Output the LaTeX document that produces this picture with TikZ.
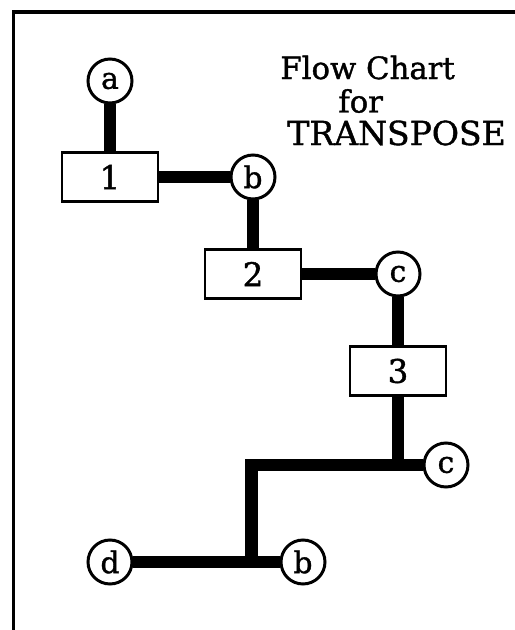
\documentclass[tikz,border=0pt]{standalone}
\usepackage{fontspec}
\setmainfont{DejaVu Serif}
\newfontfamily\chartfont{DejaVu Serif}[FakeBold=1.2]
\usetikzlibrary{shapes,positioning}

\tikzset{
  conn/.style={circle, draw, line width=1.7pt, minimum size=0.88cm, inner sep=0pt, fill=white,
    font=\chartfont\fontsize{17}{20}\selectfont},
  proc/.style={rectangle, draw, line width=1.7pt, minimum width=1.92cm, minimum height=0.98cm,
    inner sep=0pt, fill=white, font=\chartfont\fontsize{18.5}{22}\selectfont},
  link/.style={line width=7pt},
  title/.style={anchor=base west, inner sep=0pt, font=\chartfont\fontsize{17.5}{21}\selectfont}
}

\begin{document}
\begin{tikzpicture}
            \useasboundingbox (0,0) rectangle (10.3,12.6);

            % Frame
            \draw[line width=2.2pt] (0.27,0) -- (0.27,12.36) -- (10.3,12.36);

            % Heading
            \node[title] (head1) at (5.6,11.02) {Flow Chart};
            \node[title] (head2) at (6.76,10.35) {for};
            \node[title, font=\chartfont\fontsize{18.8}{22}\selectfont] (head3) at (5.74,9.7) {TRANSPOSE};

            % Connectors
            \node[conn] (a) at (2.2,10.98) {a};
            \node[conn] (b) at (5.06,9.06) {b};
            \node[conn] (c) at (7.96,7.12) {c};
            \node[conn] (c2) at (8.92,3.3) {c};
            \node[conn] (d) at (2.2,1.36) {d};
            \node[conn] (b2) at (6.06,1.36) {b};

            % Process boxes
            \node[proc] (one) at (2.2,9.06) {1};
            \node[proc] (two) at (5.06,7.12) {2};
            \node[proc] (three) at (7.96,5.18) {3};

            % Junctions
            \coordinate (j1) at (5.03,3.3);
            \coordinate (j2) at (5.03,1.36);

            % Flow lines
            \draw[link] (a) -- (one);
            \draw[link] (one) -- (b);
            \draw[link] (b) -- (two);
            \draw[link] (two) -- (c);
            \draw[link] (c) -- (three);
            \draw[link] (three) -- (three |- c2);
            \draw[link] (c2) -- (j1) -- (j2);
            \draw[link] (d) -- (b2);
        \end{tikzpicture}
\end{document}
